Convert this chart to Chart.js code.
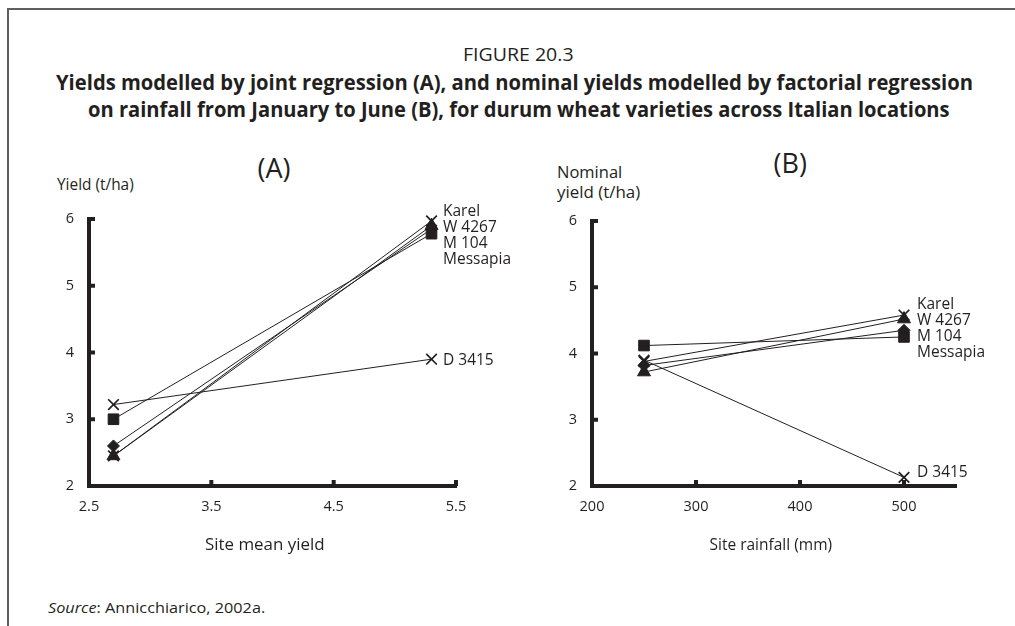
<!DOCTYPE html>
<html><head><meta charset="utf-8">
<script src="https://cdn.jsdelivr.net/npm/chart.js@4.4.0/dist/chart.umd.min.js"></script>
<style>
html,body{margin:0;padding:0;background:#fff;}
#page{position:relative;width:1015px;height:626px;overflow:hidden;font-family:'Open Sans',sans-serif;color:#231f20;}
#frame{position:absolute;left:7px;top:8px;width:1100px;height:700px;border-top:2px solid #5f5f5f;border-left:2px solid #5f5f5f;}
.t{position:absolute;white-space:nowrap;line-height:1;}
canvas{position:absolute;}
</style></head>
<body><div id="page">
<div id="frame"></div>
<div class="t" data-cx="518" data-cy="54" data-w="111" style="font-size:19px;">FIGURE 20.3</div>
<div class="t" data-cx="514" data-cy="82" data-w="917" style="font-size:21px;font-weight:700;">Yields modelled by joint regression (A), and nominal yields modelled by factorial regression</div>
<div class="t" data-cx="519" data-cy="109" data-w="862" style="font-size:21px;font-weight:700;">on rainfall from January to June (B), for durum wheat varieties across Italian locations</div>
<div class="t" data-cx="274" data-cy="167" style="font-size:27px;">(A)</div>
<div class="t" data-cx="790" data-cy="162" style="font-size:27px;">(B)</div>
<div class="t" data-lx="57" data-cy="184" data-w="77" style="font-size:16px;">Yield (t/ha)</div>
<div class="t" data-lx="557" data-cy="172" data-w="65" style="font-size:16.5px;">Nominal</div>
<div class="t" data-lx="557" data-cy="192" data-w="83" style="font-size:16.5px;">yield (t/ha)</div>
<canvas id="chartA" width="510" height="380" style="left:0px;top:180px;"></canvas>
<canvas id="chartB" width="510" height="380" style="left:500px;top:180px;"></canvas>
<div id="labelsA"></div>
<div id="labelsB"></div>
<div class="t" data-cx="265" data-cy="545" data-w="120" style="font-size:15.5px;">Site mean yield</div>
<div class="t" data-cx="771" data-cy="545" style="font-size:15.5px;">Site rainfall (mm)</div>
<div class="t" data-lx="48" data-cy="608" data-w="217" style="font-size:14px;"><i>Source</i>: Annicchiarico, 2002a.</div>
</div>
<script>
// ---- data ----
const varieties = ['Karel', 'W 4267', 'M 104', 'Messapia', 'D 3415'];
const markerStyles = ['crossRot', 'triangle', 'rectRot', 'rect', 'crossRot'];

// (A) joint regression
const siteMeanYield = [2.7, 5.3];
const jointKarel    = [2.45, 5.97];
const jointW4267    = [2.45, 5.90];
const jointM104     = [2.60, 5.85];
const jointMessapia = [3.00, 5.78];
const jointD3415    = [3.22, 3.90];

// (B) factorial regression on rainfall
const siteRainfall = [250, 500];
const factKarel    = [3.88, 4.58];
const factW4267    = [3.72, 4.52];
const factM104     = [3.82, 4.35];
const factMessapia = [4.12, 4.25];
const factD3415    = [3.90, 2.13];

// tick labels
const xTicksA = [2.5, 3.5, 4.5, 5.5];
const xTicksB = [200, 300, 400, 500];
const yTicks  = [2, 3, 4, 5, 6];

const ink = '#231f20';
Chart.defaults.font.family = "'Open Sans', sans-serif";
Chart.defaults.color = ink;

const markerRadius = {crossRot: 7.5, triangle: 7.5, rectRot: 6, rect: 7.5};

function buildSets(xs, series) {
  return series.map((ys, i) => ({
    label: varieties[i],
    data: xs.map((x, j) => ({x: x, y: ys[j]})),
    borderColor: ink,
    borderWidth: 1,
    backgroundColor: ink,
    pointStyle: markerStyles[i],
    pointRadius: markerRadius[markerStyles[i]],
    pointBorderWidth: markerStyles[i] === 'crossRot' ? 1.7 : 1,
    pointBorderColor: ink,
    pointBackgroundColor: ink,
    fill: false,
    tension: 0
  }));
}

const inwardTicks = {
  id: 'inwardTicks',
  beforeDatasetsDraw(chart, args, opts) {
    const ctx = chart.ctx, a = chart.chartArea;
    const xs = chart.scales.x, ys = chart.scales.y;
    ctx.save();
    ctx.strokeStyle = ink; ctx.lineWidth = 4; ctx.lineCap = 'butt';
    (opts.x || []).forEach(v => {
      const px = xs.getPixelForValue(v);
      ctx.beginPath(); ctx.moveTo(px, a.bottom); ctx.lineTo(px, a.bottom - 6); ctx.stroke();
    });
    (opts.y || []).forEach(v => {
      const py = ys.getPixelForValue(v);
      ctx.beginPath(); ctx.moveTo(a.left, py); ctx.lineTo(a.left + 6, py); ctx.stroke();
    });
    ctx.restore();
  }
};

function makeChart(id, xs, series, xMin, xMax, xTicks, pad, tickMarks) {
  return new Chart(document.getElementById(id), {
    type: 'scatter',
    data: {datasets: buildSets(xs, series)},
    plugins: [inwardTicks],
    options: {
      responsive: false,
      animation: false,
      devicePixelRatio: 1,
      showLine: true,
      clip: false,
      layout: {autoPadding: false, padding: pad},
      plugins: {legend: {display: false}, tooltip: {enabled: false}, title: {display: false},
                inwardTicks: tickMarks},
      scales: {
        x: {
          type: 'linear', min: xMin, max: xMax,
          afterBuildTicks: s => { s.ticks = xTicks.map(v => ({value: v})); },
          afterFit: s => { s.height = 40; },
          grid: {display: false, drawTicks: false},
          border: {display: true, color: ink, width: 4},
          ticks: {padding: 12, font: {size: 14.5}, color: ink, maxRotation: 0, autoSkip: false,
                  callback: v => String(v)}
        },
        y: {
          type: 'linear', min: 2, max: 6,
          afterBuildTicks: s => { s.ticks = yTicks.map(v => ({value: v})); },
          afterFit: s => { s.width = 49; },
          grid: {display: false, drawTicks: false},
          border: {display: true, color: ink, width: 4},
          ticks: {padding: 15, font: {size: 14.5}, color: ink, callback: v => String(v)}
        }
      }
    }
  });
}

makeChart('chartA', siteMeanYield,
  [jointKarel, jointW4267, jointM104, jointMessapia, jointD3415],
  2.5, 5.5, xTicksA, {left: 40, top: 39, right: 54, bottom: 34},
  {x: [3.5, 4.5, 5.5], y: [3, 4, 5, 6]});
makeChart('chartB', siteRainfall,
  [factKarel, factW4267, factM104, factMessapia, factD3415],
  200, 550, xTicksB, {left: 43, top: 41, right: 54, bottom: 34},
  {x: [300, 400, 500], y: [3, 4, 5, 6]});

// variety labels beside the line ends
function placeLabels(containerId, left, tops) {
  const box = document.getElementById(containerId);
  varieties.forEach((name, i) => {
    const d = document.createElement('div');
    d.className = 't';
    d.dataset.lx = left;
    d.dataset.cy = tops[i];
    d.style.fontSize = '15.5px';
    d.textContent = name;
    box.appendChild(d);
  });
}
placeLabels('labelsA', 443, [211, 227, 243, 259, 360]);
placeLabels('labelsB', 917, [304, 320, 336, 352, 472]);

// position text blocks (centre or left anchor), optionally fitted to a width
document.querySelectorAll('.t').forEach(el => {
  const w = el.offsetWidth, h = el.offsetHeight;
  const k = el.dataset.w ? (+el.dataset.w / w) : 1;
  const cy = +el.dataset.cy;
  el.style.top = (cy - h / 2) + 'px';
  el.style.transformOrigin = '0 50%';
  el.style.transform = 'scaleX(' + k + ')';
  if (el.dataset.cx !== undefined) {
    el.style.left = (+el.dataset.cx - w * k / 2) + 'px';
  } else {
    el.style.left = (+el.dataset.lx) + 'px';
  }
});
</script>
</body></html>
